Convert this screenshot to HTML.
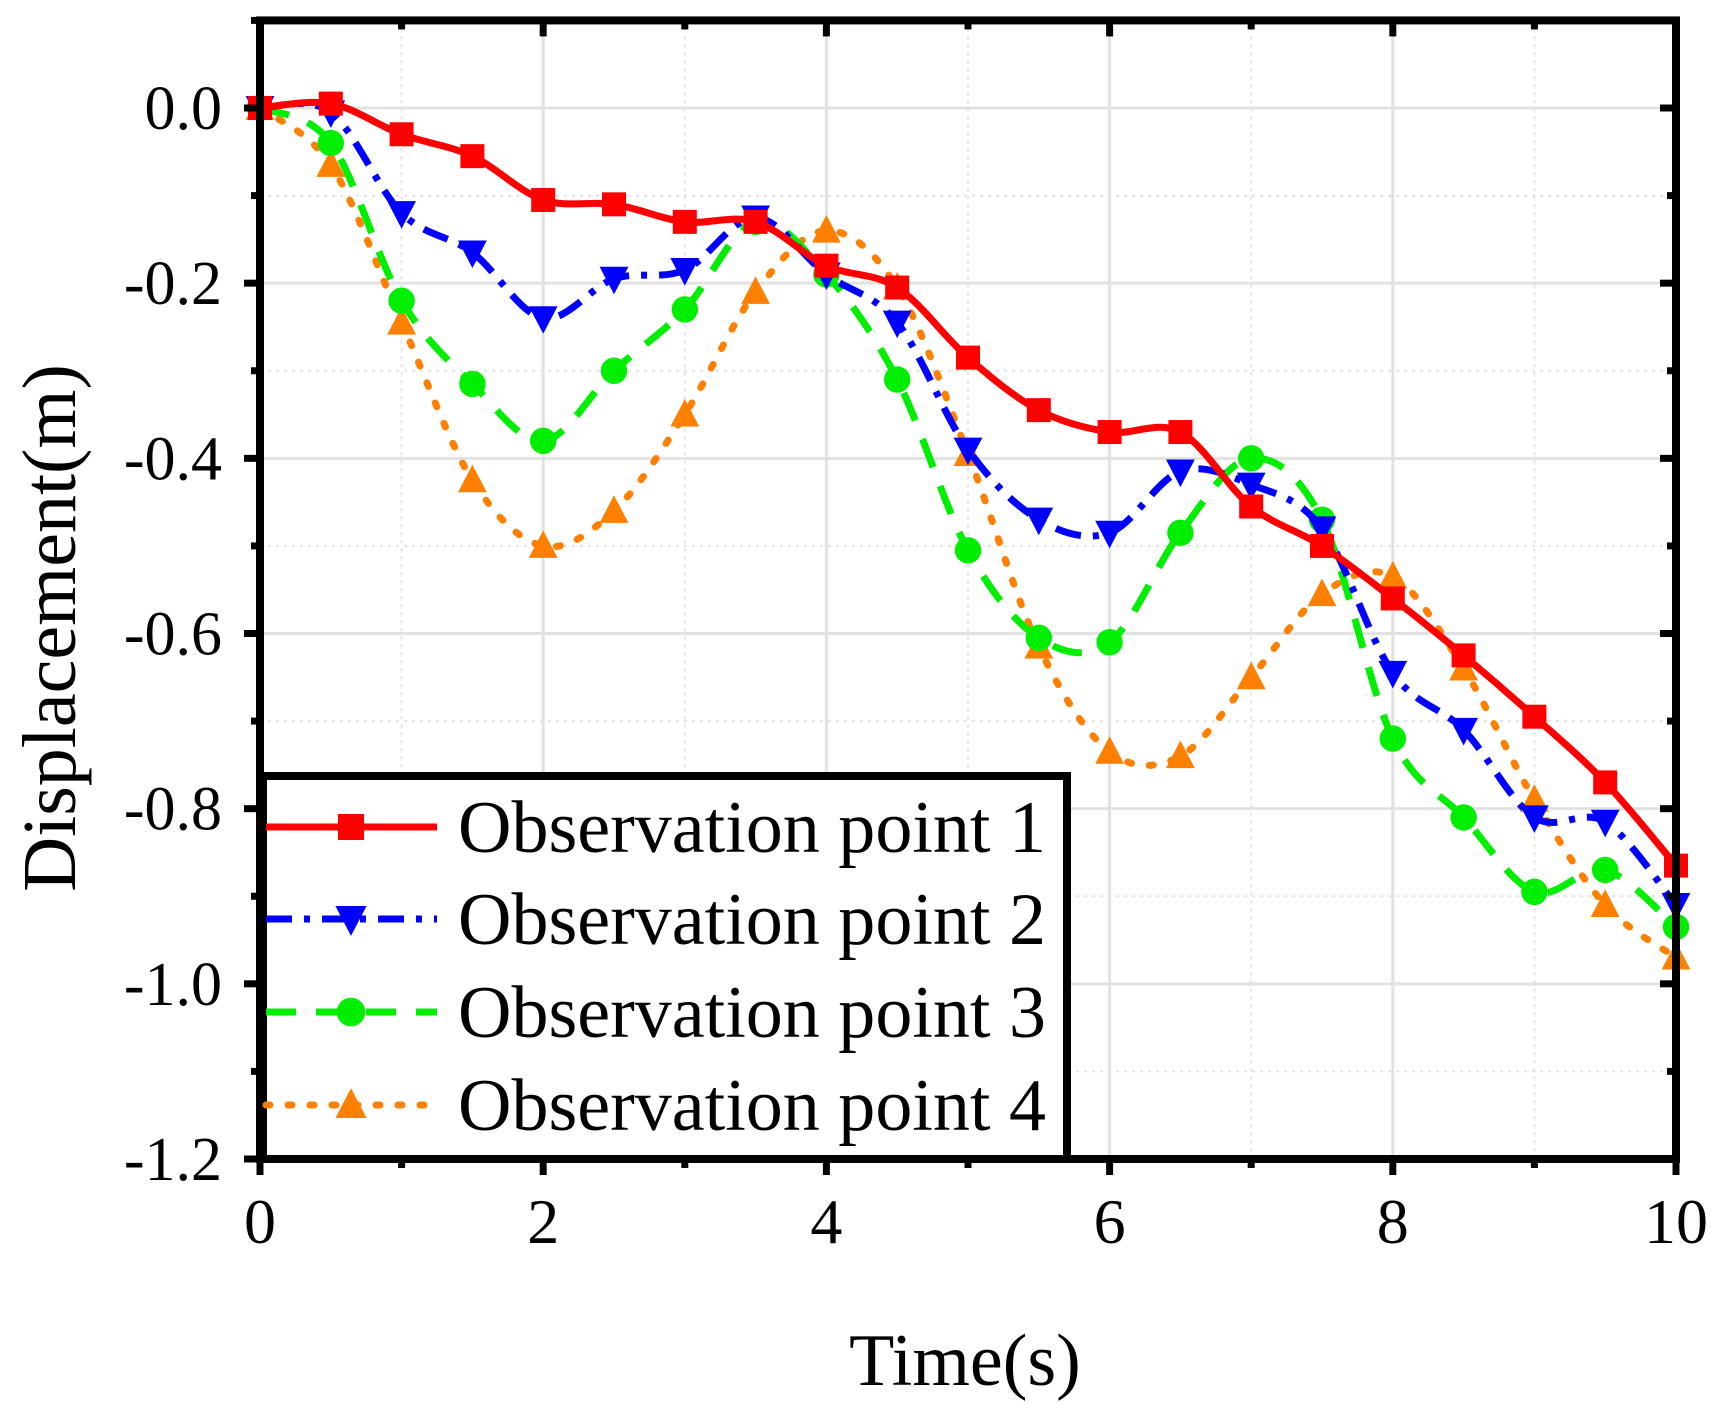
<!DOCTYPE html>
<html><head><meta charset="utf-8"><style>
html,body{margin:0;padding:0;background:#fff}
svg{display:block}
text{font-family:"Liberation Serif",serif;fill:#000}
</style></head><body>
<svg id="chart" width="1728" height="1408" viewBox="0 0 1728 1408">
<g id="grid"></g>
<g id="series"></g>
<g id="frame"></g>
<g id="legend"></g>
<text x="965" y="1385" font-size="74" text-anchor="middle">Time(s)</text>
<text transform="translate(75,628) rotate(-90)" font-size="76" text-anchor="middle">Displacement(m)</text>
</svg>
<script>
const times = [0,0.5,1,1.5,2,2.5,3,3.5,4,4.5,5,5.5,6,6.5,7,7.5,8,8.5,9,9.5,10];
const point1 = [0,0.005,-0.03,-0.055,-0.105,-0.11,-0.13,-0.13,-0.18,-0.205,-0.285,-0.345,-0.37,-0.37,-0.455,-0.5,-0.56,-0.625,-0.695,-0.77,-0.865];
const point2 = [0,-0.005,-0.12,-0.165,-0.24,-0.195,-0.185,-0.125,-0.19,-0.245,-0.39,-0.47,-0.485,-0.415,-0.43,-0.48,-0.645,-0.71,-0.81,-0.815,-0.91];
const point3 = [0,-0.04,-0.22,-0.315,-0.38,-0.30,-0.23,-0.13,-0.19,-0.31,-0.505,-0.605,-0.61,-0.485,-0.40,-0.47,-0.72,-0.81,-0.895,-0.87,-0.935];
const point4 = [0,-0.065,-0.245,-0.425,-0.50,-0.46,-0.35,-0.21,-0.14,-0.205,-0.395,-0.615,-0.735,-0.74,-0.65,-0.555,-0.535,-0.64,-0.79,-0.91,-0.97];
const seriesNames = ["Observation point 1","Observation point 2","Observation point 3","Observation point 4"];
const xTicks = [0,2,4,6,8,10];
const yTicks = [0,-0.2,-0.4,-0.6,-0.8,-1.0,-1.2];
const yTickLabels = ["0.0","-0.2","-0.4","-0.6","-0.8","-1.0","-1.2"];

const X0=260,X1=1676,Y0=108,Y12=1159;
const xs=t=>X0+(t/10)*(X1-X0);
const ys=v=>Y0+(-v/1.2)*(Y12-Y0);
const NS="http://www.w3.org/2000/svg";
function mk(tag,attrs,parent){const e=document.createElementNS(NS,tag);for(const k in attrs)e.setAttribute(k,attrs[k]);parent.appendChild(e);return e;}
const grid=document.getElementById('grid'),frame=document.getElementById('frame'),ser=document.getElementById('series'),leg=document.getElementById('legend');
const TOP=ys(0.1);
for(let t=0;t<=10;t+=1){const major=t%2===0;const l=mk('line',{x1:xs(t),x2:xs(t),y1:TOP,y2:Y12,stroke:'#e2e2e2','stroke-width':major?3:2,'stroke-dasharray':major?'':'3 5'},grid);

}
for(let i=0;i<=13;i++){const v=0.1-i*0.1;const major=Math.round(v*10)%2===0;const l=mk('line',{x1:X0,x2:X1,y1:ys(v),y2:ys(v),stroke:'#e2e2e2','stroke-width':major?3:2,'stroke-dasharray':major?'':'3 5'},grid);

}
const fr=mk('rect',{x:X0,y:TOP,width:X1-X0,height:Y12-TOP,fill:'none',stroke:'#000','stroke-width':8},frame);


for(let t=0;t<=10;t+=1){const major=t%2===0;const len=major?16:9;
const a=mk('line',{x1:xs(t),x2:xs(t),y1:Y12,y2:Y12+len,stroke:'#000','stroke-width':7},frame);


const b=mk('line',{x1:xs(t),x2:xs(t),y1:TOP,y2:TOP+len,stroke:'#000','stroke-width':7},frame);

}
for(let i=0;i<=13;i++){const v=0.1-i*0.1;const major=Math.round(v*10)%2===0;const len=major?16:9;
const a=mk('line',{x1:X0-len,x2:X0,y1:ys(v),y2:ys(v),stroke:'#000','stroke-width':7},frame);


const b=mk('line',{x1:X1-len,x2:X1,y1:ys(v),y2:ys(v),stroke:'#000','stroke-width':7},frame);

}
xTicks.forEach(t=>{const tx=mk('text',{x:xs(t),y:1243,'font-size':64,'text-anchor':'middle'},frame);tx.textContent=String(t);

});
yTicks.forEach((v,i)=>{const tx=mk('text',{x:222,y:ys(v)+21,'font-size':62,'text-anchor':'end'},frame);tx.textContent=yTickLabels[i];

});
const colors=['#ff0000','#0000ff','#00ee00','#ff8000'];
const dashes=['','26 12 6 12','30 20','4 18'];
const data=[point1,point2,point3,point4];
function smooth(pts){let d=`M${pts[0][0]},${pts[0][1]}`;for(let i=0;i<pts.length-1;i++){const p0=pts[Math.max(0,i-1)],p1=pts[i],p2=pts[i+1],p3=pts[Math.min(pts.length-1,i+2)];
const c1=[p1[0]+(p2[0]-p0[0])/6,p1[1]+(p2[1]-p0[1])/6],c2=[p2[0]-(p3[0]-p1[0])/6,p2[1]-(p3[1]-p1[1])/6];
d+=` C${c1[0]},${c1[1]} ${c2[0]},${c2[1]} ${p2[0]},${p2[1]}`;}return d;}
function marker(k,cx,cy,parent,s){let m;
if(k===0)m=mk('rect',{x:cx-s,y:cy-s,width:2*s,height:2*s,fill:colors[0]},parent);
else if(k===1)m=mk('polygon',{points:`${cx-s*1.2},${cy-s} ${cx+s*1.2},${cy-s} ${cx},${cy+s*1.3}`,fill:colors[1]},parent);
else if(k===2)m=mk('circle',{cx:cx,cy:cy,r:s*1.1,fill:colors[2]},parent);
else m=mk('polygon',{points:`${cx-s*1.2},${cy+s} ${cx+s*1.2},${cy+s} ${cx},${cy-s*1.3}`,fill:colors[3]},parent);
return m;}
[3,2,1,0].forEach(k=>{const pts=times.map((t,i)=>[xs(t),ys(data[k][i])]);
const p=mk('path',{d:smooth(pts),fill:'none',stroke:colors[k],'stroke-width':7,'stroke-dasharray':dashes[k],'stroke-linecap':k===3?'round':'butt'},ser);


pts.forEach(q=>{const m=marker(k,q[0],q[1],ser,12);

});});
const lb=mk('rect',{x:263,y:776,width:804,height:383,fill:'#fff',stroke:'#000','stroke-width':8},leg);


const rows=[827,919,1012,1105];
seriesNames.forEach((n,k)=>{const g=mk('g',{},leg);


mk('line',{x1:266,x2:437,y1:rows[k],y2:rows[k],stroke:colors[k],'stroke-width':7,'stroke-dasharray':dashes[k],'stroke-linecap':k===3?'round':'butt'},g);
marker(k,351,rows[k],g,13);
const tx=mk('text',{x:458,y:rows[k]+25,'font-size':74,textLength:588,lengthAdjust:'spacingAndGlyphs'},g);tx.textContent=n;});
</script>
</body></html>
